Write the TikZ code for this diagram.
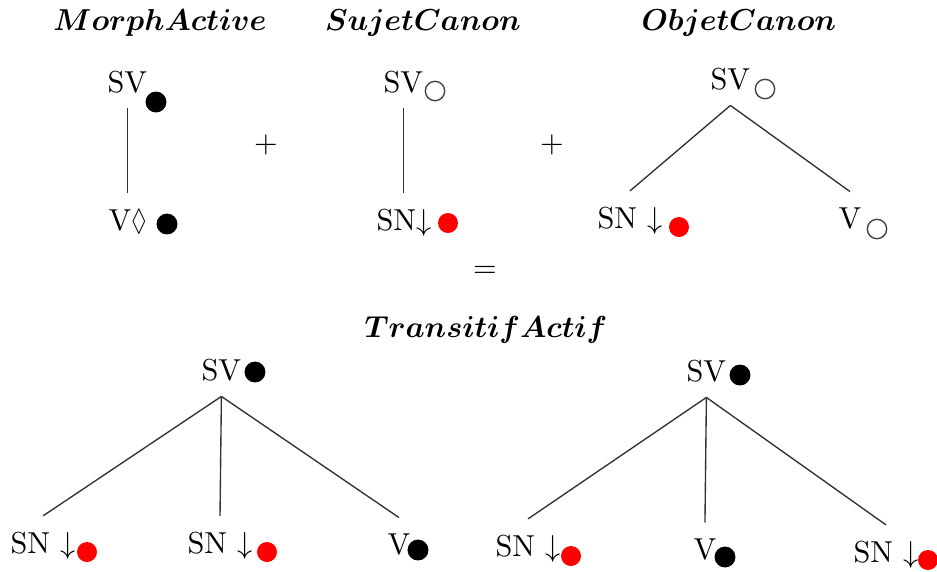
\documentclass[tikz,border=0pt]{standalone}
\usepackage{amssymb}
\usepackage{bm}
\usepackage{graphicx}
\begin{document}
\begin{tikzpicture}[x=0.33pt,y=-0.33pt,
  lab/.style={inner xsep=0pt,inner ysep=5pt,anchor=base west,font=\fontsize{10}{12}\selectfont},
  ttl/.style={inner sep=0pt,anchor=base,font=\fontsize{9.7}{12}\selectfont},
  sym/.style={inner sep=0pt,font=\fontsize{10}{12}\selectfont},
  bdot/.style={circle,inner sep=0pt,minimum size=6.9pt,fill=black},
  rdot/.style={circle,inner sep=0pt,minimum size=6.6pt,fill=red},
  odot/.style={circle,inner sep=0pt,minimum size=6.4pt,draw=black!75,line width=0.45pt},
  edge/.style={draw=black!80,line width=0.45pt}]
\useasboundingbox (0,0) rectangle (937,571);
\clip (0,0) rectangle (937,571);
% titles
\node[ttl] (ti1) at (160,30) {$\bm{MorphActive}$};
\node[ttl] (ti2) at (423,30) {$\bm{SujetCanon}$};
\node[ttl] (ti3) at (739,30) {$\bm{ObjetCanon}$};
\node[ttl] (ti4) at (486,337) {$\bm{TransitifActif}$};
% operators
\node[sym] (plus1) at (266,145) {$+$};
\node[sym] (plus2) at (552,145) {$+$};
\node[sym] (eq) at (485,272) {$=$};
% tree 1: MorphActive
\node[lab] (a1) at (107,92) {SV};
\node[lab] (a2) at (108,230) {V\scalebox{0.75}[1]{$\lozenge$}};
\node[bdot] (a1d) at (156,102) {};
\node[bdot] (a2d) at (167,224) {};
\draw[edge] (a1.south) -- (a1.south |- a2.north);
% tree 2: SujetCanon
\node[lab] (b1) at (383,92) {SV};
\node[lab] (b2) at (376,230) {SN$\downarrow$};
\node[odot] (b1d) at (435,91) {};
\node[rdot] (b2d) at (448,223) {};
\draw[edge] (b1.south) -- (b1.south |- b2.north);
% tree 3: ObjetCanon
\node[lab] (c1) at (710,89) {SV};
\node[lab] (c2) at (597,228) {SN $\downarrow$};
\node[lab] (c3) at (838,228) {V};
\node[odot] (c1d) at (765,89) {};
\node[rdot] (c2d) at (679,227) {};
\node[odot] (c3d) at (877,229) {};
\draw[edge] (c1.south) -- (c2.north);
\draw[edge] (c1.south) -- (c3.north);
% tree 4: TransitifActif (left)
\node[lab] (d1) at (201,380) {SV};
\node[lab] (d2) at (10,553) {SN $\downarrow$};
\node[lab] (d3) at (187,553) {SN $\downarrow$};
\node[lab] (d4) at (387,554) {V};
\node[bdot] (d1d) at (255,372) {};
\node[rdot] (d2d) at (87,552) {};
\node[rdot] (d3d) at (267,552) {};
\node[bdot] (d4d) at (418,550) {};
\draw[edge] (d1.south) -- (d2.north);
\draw[edge] (d1.south) -- (d3.north);
\draw[edge] (d1.south) -- (d4.north);
% tree 5: TransitifActif (right)
\node[lab] (e1) at (686,381) {SV};
\node[lab] (e2) at (495,556) {SN $\downarrow$};
\node[lab] (e3) at (693,559) {V};
\node[lab] (e4) at (853,562) {SN $\downarrow$};
\node[bdot] (e1d) at (740,375) {};
\node[rdot] (e2d) at (571,556) {};
\node[bdot] (e3d) at (725,557) {};
\node[rdot] (e4d) at (928,560) {};
\draw[edge] (e1.south) -- (e2.north);
\draw[edge] (e1.south) -- (e3.north);
\draw[edge] (e1.south) -- (e4.north);
\end{tikzpicture}
\end{document}
